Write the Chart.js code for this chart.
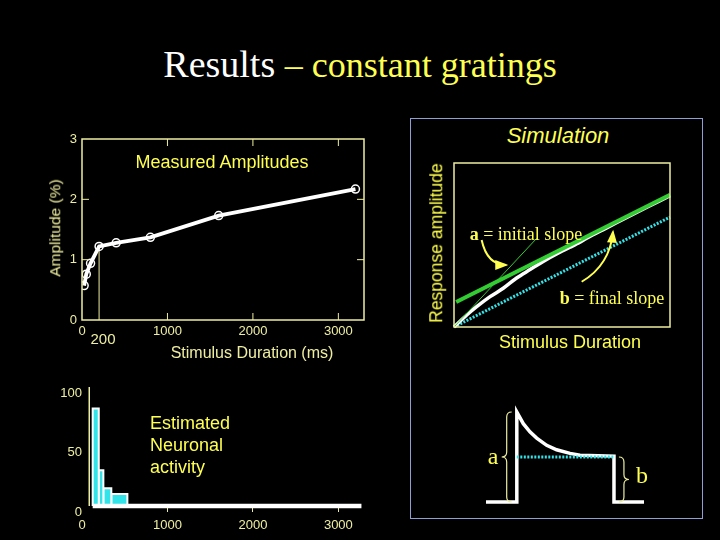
<!DOCTYPE html>
<html>
<head>
<meta charset="utf-8">
<script src="https://cdn.jsdelivr.net/npm/chart.js@4.4.1/dist/chart.umd.min.js"></script>
<style>
  html, body { margin: 0; padding: 0; background: #000; }
  #slide { position: relative; width: 720px; height: 540px; overflow: hidden; background: #000;
           font-family: "Liberation Sans", Arial, sans-serif; }
  .lbl { position: absolute; white-space: nowrap; transform: translate(-50%, -50%); line-height: 1; }
  .serif { font-family: "Liberation Serif", "Times New Roman", serif; }
  .box { position: absolute; }
  #frame { position: absolute; left: 410px; top: 118px; width: 293px; height: 401px;
           box-sizing: border-box; border: 1.5px solid #8e9fd6; }
</style>
</head>
<body>
<div id="slide">
  <div class="serif" style="position:absolute;left:0;top:44px;width:720px;text-align:center;line-height:40px;font-size:38px;color:#fff;">Results <span style="font-size:36px;color:#ffff50;">– constant gratings</span></div>

  <div id="frame"></div>

  <div class="box" style="left:0;top:120px;width:400px;height:250px;"><canvas id="measured" width="400" height="250"></canvas></div>
  <div class="box" style="left:0;top:370px;width:400px;height:170px;"><canvas id="activity" width="400" height="170"></canvas></div>
  <div class="box" style="left:411px;top:150px;width:280px;height:200px;"><canvas id="sim" width="280" height="200"></canvas></div>
  <div class="box" style="left:480px;top:400px;width:170px;height:110px;"><canvas id="pulse" width="170" height="110"></canvas></div>

  <div class="lbl" style="left:222px;top:162px;font-size:18px;color:#ffff50;">Measured Amplitudes</div>
  <div class="lbl" style="left:55px;top:228px;font-size:15.5px;color:#eeeea0;transform:translate(-50%,-50%) rotate(-90deg);">Amplitude (%)</div>
  <div class="lbl" style="left:252px;top:353px;font-size:16px;color:#eeeea0;">Stimulus Duration (ms)</div>
  <div class="lbl" style="left:103px;top:338px;font-size:15px;color:#eeeea0;">200</div>

  <div style="position:absolute;left:150px;top:412px;font-size:18px;line-height:22px;color:#ffff50;">Estimated<br>Neuronal<br>activity</div>

  <div class="lbl" style="left:558px;top:136px;font-size:22px;font-style:italic;color:#ffff50;">Simulation</div>
  <div class="lbl" style="left:437px;top:243px;font-size:17.5px;color:#ffff50;transform:translate(-50%,-50%) rotate(-90deg);">Response amplitude</div>
  <div class="lbl" style="left:570px;top:342px;font-size:18px;color:#ffff50;">Stimulus Duration</div>
  <div class="lbl serif" style="left:526px;top:234px;font-size:18px;color:#ffff50;"><b>a</b> = initial slope</div>
  <div class="lbl serif" style="left:612px;top:298px;font-size:18px;color:#ffff50;"><b>b</b> = final slope</div>
  <div class="lbl serif" style="left:493px;top:456px;font-size:24px;color:#ffff50;">a</div>
  <div class="lbl serif" style="left:642px;top:475px;font-size:24px;color:#ffff50;">b</div>
</div>

<script>
// measured amplitudes
const durations = [25, 50, 100, 200, 400, 800, 1600, 3200];
const amplitudes = [0.57, 0.76, 0.94, 1.22, 1.28, 1.37, 1.73, 2.17];
const ampYTicks = [0, 1, 2, 3];
const durXTicks = [0, 1000, 2000, 3000];
const durMax = 3300;
const markDuration = 200;

// estimated neuronal activity (histogram bins)
const binEdges = [125, 196, 250, 343, 531];
const activity = [82, 30, 15, 10];
const activityEnd = 3270;
const activityAxisAt = 85;
const actYTicks = [0, 50, 100];

// simulation curves
const simT = [0, 0.59, 1.05, 1.67, 2.28, 2.9, 3.52, 4.13, 4.75, 5.37, 5.83, 6.14, 7, 8, 9, 10];
const simResponse = [0, 0.73, 1.24, 1.85, 2.36, 2.99, 3.5, 4.0, 4.45, 4.86, 5.17, 5.41, 6.0, 6.68, 7.35, 8.0];
const asymptoteT = [0.1, 10];
const asymptoteY = [1.52, 8.06];
const finalSlopeT = [0, 10];
const finalSlopeY = [0, 6.7];
const initSlopeT = [0, 3.83];
const initSlopeY = [0, 5.41];

// schematic response to a pulse
const pulseT = [0, 1.95, 1.95, 2.36, 2.78, 3.21, 3.84, 4.47, 5.32, 5.95, 8.1, 8.1, 10];
const pulseR = [0, 0, 1.0, 0.87, 0.78, 0.71, 0.63, 0.58, 0.54, 0.52, 0.51, 0, 0];
const plateauT = [1.95, 8.1];
const plateauR = [0.5, 0.5];

const PALE = '#eeeea0';
const YELLOW = '#ffff50';
const CYAN = '#30e4ea';
const GREEN = '#33cc33';

const pts = (xs, ys) => xs.map((x, i) => ({ x: x, y: ys[i] }));
const fixedTicks = (values) => (scale) => { scale.ticks = values.map(v => ({ value: v })); };

Chart.defaults.animation = false;
Chart.defaults.font.family = '"Liberation Sans", Arial, sans-serif';
Chart.defaults.color = PALE;
Chart.defaults.plugins.legend.display = false;
Chart.defaults.plugins.tooltip.enabled = false;

// frame, inward ticks, arrows and braces
const slideMarks = {
    id: 'slideMarks',
    afterDatasetsDraw(chart, args, o) {
        const { ctx, chartArea: a } = chart;
        const xs = chart.scales.x, ys = chart.scales.y;
        ctx.save();
        if (o.frame) {
            ctx.strokeStyle = o.frame;
            ctx.lineWidth = o.frameWidth || 1;
            ctx.strokeRect(a.left, a.top, a.right - a.left, a.bottom - a.top);
        }
        if (o.innerTicks) {
            const L = o.innerTicks;
            ctx.strokeStyle = o.frame;
            ctx.lineWidth = 1;
            ctx.beginPath();
            xs.ticks.forEach(t => {
                const p = xs.getPixelForValue(t.value);
                if (p <= a.left + 1 || p >= a.right - 1) return;
                ctx.moveTo(p, a.bottom); ctx.lineTo(p, a.bottom - L);
                ctx.moveTo(p, a.top); ctx.lineTo(p, a.top + L);
            });
            ys.ticks.forEach(t => {
                const p = ys.getPixelForValue(t.value);
                if (p >= a.bottom - 1 || p <= a.top + 1) return;
                ctx.moveTo(a.left, p); ctx.lineTo(a.left + L, p);
                ctx.moveTo(a.right, p); ctx.lineTo(a.right - L, p);
            });
            ctx.stroke();
        }
        if (o.yLineAt !== undefined) {
            const p = xs.getPixelForValue(o.yLineAt);
            ctx.strokeStyle = PALE;
            ctx.lineWidth = 1.5;
            ctx.beginPath();
            ctx.moveTo(p, ys.getPixelForValue(ys.max));
            ctx.lineTo(p, ys.getPixelForValue(ys.min));
            ctx.stroke();
        }
        const P = v => [xs.getPixelForValue(v[0]), ys.getPixelForValue(v[1])];
        (o.arrows || []).forEach(ar => {
            const [sx, sy] = P(ar.from), [cx, cy] = P(ar.ctrl), [ex, ey] = P(ar.to);
            ctx.strokeStyle = YELLOW;
            ctx.fillStyle = YELLOW;
            ctx.lineWidth = 2;
            ctx.beginPath();
            ctx.moveTo(sx, sy);
            ctx.quadraticCurveTo(cx, cy, ex, ey);
            ctx.stroke();
            const ang = Math.atan2(ey - cy, ex - cx);
            const h = 11, w = 5;
            ctx.beginPath();
            ctx.moveTo(ex + 2 * Math.cos(ang), ey + 2 * Math.sin(ang));
            ctx.lineTo(ex - h * Math.cos(ang) + w * Math.sin(ang), ey - h * Math.sin(ang) - w * Math.cos(ang));
            ctx.lineTo(ex - h * Math.cos(ang) - w * Math.sin(ang), ey - h * Math.sin(ang) + w * Math.cos(ang));
            ctx.closePath();
            ctx.fill();
        });
        (o.braces || []).forEach(br => {
            const x = xs.getPixelForValue(br.x);
            const y1 = ys.getPixelForValue(br.top), y2 = ys.getPixelForValue(br.bottom);
            const ym = (y1 + y2) / 2, d = br.dir, w = 5;
            ctx.strokeStyle = PALE;
            ctx.lineWidth = 1.2;
            ctx.beginPath();
            ctx.moveTo(x - d * w, y1);
            ctx.quadraticCurveTo(x, y1, x, y1 + w);
            ctx.lineTo(x, ym - w);
            ctx.quadraticCurveTo(x, ym, x + d * w, ym);
            ctx.quadraticCurveTo(x, ym, x, ym + w);
            ctx.lineTo(x, y2 - w);
            ctx.quadraticCurveTo(x, y2, x - d * w, y2);
            ctx.stroke();
        });
        ctx.restore();
    }
};
Chart.register(slideMarks);

new Chart(document.getElementById('measured'), {
    type: 'line',
    data: {
        datasets: [{
            data: pts(durations, amplitudes),
            borderColor: '#ffffff',
            borderWidth: 3.8,
            pointRadius: 4,
            pointBorderWidth: 1.5,
            pointBorderColor: '#ffffff',
            pointBackgroundColor: 'rgba(0,0,0,0)',
            tension: 0
        }, {
            data: pts([markDuration, markDuration], [0, amplitudes[durations.indexOf(markDuration)]]),
            borderColor: PALE,
            borderWidth: 1,
            pointRadius: 0
        }]
    },
    options: {
        responsive: false,
        layout: { padding: { top: 19, right: 36, left: 0, bottom: 0 } },
        scales: {
            x: {
                type: 'linear', min: 0, max: durMax,
                afterBuildTicks: fixedTicks(durXTicks),
                afterFit: s => { s.height = 50; },
                grid: { display: false, drawTicks: false },
                border: { display: false },
                ticks: { padding: 4, font: { size: 13 }, maxRotation: 0, autoSkip: false, callback: v => String(v) }
            },
            y: {
                min: 0, max: 3,
                afterBuildTicks: fixedTicks(ampYTicks),
                afterFit: s => { s.width = 82; },
                grid: { display: false, drawTicks: false },
                border: { display: false },
                ticks: { padding: 5, font: { size: 13 }, callback: v => String(v) }
            }
        },
        plugins: { slideMarks: { frame: PALE, frameWidth: 1.5, innerTicks: 7 } }
    }
});

const barSets = activity.map((v, i) => ({
    data: pts([binEdges[i], binEdges[i], binEdges[i + 1], binEdges[i + 1]], [0, v, v, 0]),
    borderColor: '#ffffff',
    borderWidth: 2,
    backgroundColor: CYAN,
    fill: 'origin',
    pointRadius: 0,
    tension: 0
}));

new Chart(document.getElementById('activity'), {
    type: 'line',
    data: {
        datasets: [{
            data: pts([binEdges[0], activityEnd], [0, 0]),
            borderColor: '#ffffff',
            borderWidth: 4.5,
            pointRadius: 0
        }].concat(barSets)
    },
    options: {
        responsive: false,
        clip: false,
        layout: { padding: { top: 17, right: 36, left: 0, bottom: 0 } },
        scales: {
            x: {
                type: 'linear', min: 0, max: durMax,
                afterBuildTicks: fixedTicks(durXTicks),
                afterFit: s => { s.height = 34; },
                grid: {
                    display: true, drawOnChartArea: false, drawTicks: true, tickLength: 6,
                    color: c => (c.tick && c.tick.value === 0) ? 'rgba(0,0,0,0)' : PALE
                },
                border: { display: false },
                ticks: { padding: 6, font: { size: 13 }, maxRotation: 0, autoSkip: false, callback: v => String(v) }
            },
            y: {
                min: 0, max: 100,
                afterBuildTicks: fixedTicks(actYTicks),
                afterFit: s => { s.width = 82; },
                grid: { display: false, drawTicks: false },
                border: { display: false },
                ticks: { padding: 0, labelOffset: 6, font: { size: 13 }, callback: v => String(v) }
            }
        },
        plugins: { slideMarks: { yLineAt: activityAxisAt } }
    }
});

new Chart(document.getElementById('sim'), {
    type: 'line',
    data: {
        datasets: [{
            data: pts(asymptoteT, asymptoteY),
            borderColor: GREEN,
            borderWidth: 4,
            pointRadius: 0
        }, {
            data: pts(initSlopeT, initSlopeY),
            borderColor: GREEN,
            borderWidth: 1,
            pointRadius: 0
        }, {
            data: pts(simT, simResponse),
            borderColor: '#ffffff',
            borderWidth: 3.5,
            pointRadius: 0,
            tension: 0.3
        }, {
            data: pts(finalSlopeT, finalSlopeY),
            borderColor: CYAN,
            borderWidth: 3,
            borderDash: [2, 1.5],
            pointRadius: 0
        }]
    },
    options: {
        responsive: false,
        clip: false,
        layout: { padding: { top: 13, right: 21, left: 43, bottom: 23 } },
        scales: {
            x: { type: 'linear', min: 0, max: 10, display: false },
            y: { min: 0, max: 10, display: false }
        },
        plugins: {
            slideMarks: {
                frame: PALE, frameWidth: 1.5,
                arrows: [
                    { from: [1.28, 5.3], ctrl: [1.53, 3.78], to: [2.42, 3.78] },
                    { from: [5.91, 2.76], ctrl: [7.22, 3.78], to: [7.36, 5.81] }
                ]
            }
        }
    }
});

new Chart(document.getElementById('pulse'), {
    type: 'line',
    data: {
        datasets: [{
            data: pts(plateauT, plateauR),
            borderColor: CYAN,
            borderWidth: 3,
            borderDash: [2, 1.5],
            pointRadius: 0
        }, {
            data: pts(pulseT, pulseR),
            borderColor: '#ffffff',
            borderWidth: 3.5,
            borderJoinStyle: 'miter',
            pointRadius: 0,
            tension: 0
        }]
    },
    options: {
        responsive: false,
        clip: false,
        layout: { padding: { top: 12, right: 6, left: 6, bottom: 8 } },
        scales: {
            x: { type: 'linear', min: 0, max: 10, display: false },
            y: { min: 0, max: 1, display: false }
        },
        plugins: {
            slideMarks: {
                braces: [
                    { x: 1.31, top: 1.0, bottom: 0, dir: -1 },
                    { x: 8.73, top: 0.5, bottom: 0, dir: 1 }
                ]
            }
        }
    }
});
</script>
</body>
</html>
